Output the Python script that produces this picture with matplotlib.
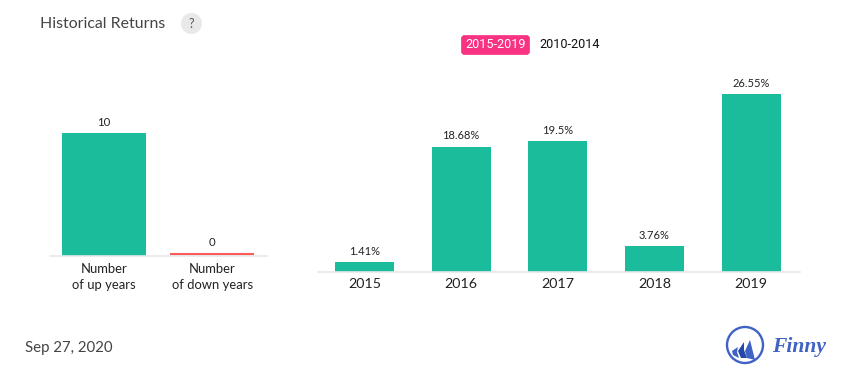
import matplotlib
matplotlib.use("Agg")
import matplotlib.pyplot as plt
from matplotlib.patches import Circle, FancyBboxPatch, Polygon
from matplotlib.transforms import ScaledTranslation

WIDTH, HEIGHT = 855, 382

count_labels = ["Number\nof up years", "Number\nof down years"]
count_values = [10, 0]
years = ["2015", "2016", "2017", "2018", "2019"]
returns = [1.41, 18.68, 19.5, 3.76, 26.55]
return_labels = ["1.41%", "18.68%", "19.5%", "3.76%", "26.55%"]

GREEN = "#1abc9c"
RED = "#ff5a5a"
PINK = "#f93282"
BLUE = "#3f62c4"
DARK_BLUE = "#2547a8"
AXIS = "#e8e8e8"


def pixel_axes(fig, left, top, right, bottom):
    return fig.add_axes(
        [left / WIDTH, 1 - bottom / HEIGHT, (right - left) / WIDTH, (bottom - top) / HEIGHT]
    )


def style_axes(ax):
    for side in ["top", "right", "left"]:
        ax.spines[side].set_visible(False)
    ax.spines["bottom"].set_color(AXIS)
    ax.spines["bottom"].set_linewidth(1.2)
    ax.set_yticks([])
    ax.tick_params(axis="x", length=0, labelcolor="#222222")
    ax.patch.set_alpha(0)


plt.rcParams["font.family"] = ["Lato", "DejaVu Sans"]
fig = plt.figure(figsize=(WIDTH / 100, HEIGHT / 100), dpi=100, facecolor="white")

# left panel: up and down years
ax_left = pixel_axes(fig, 50, 60, 266.5, 255.5)
ax_left.bar(range(2), count_values, width=0.775, color=[GREEN, RED])
# the zero bar still shows as a thin red strip sitting on the axis
lift = ScaledTranslation(0, 1.5 / 100, fig.dpi_scale_trans)
ax_left.plot([1 - 0.3875, 1 + 0.3875], [count_values[1], count_values[1]],
             color=RED, lw=1.5, solid_capstyle="butt", clip_on=False, zorder=5,
             transform=ax_left.transData + lift)
ax_left.set_xlim(-0.5, 1.5)
ax_left.set_ylim(0, 10 * 195.5 / 122.5)
ax_left.set_xticks(range(2))
ax_left.set_xticklabels(count_labels, fontsize=9.4, linespacing=1.42)
ax_left.tick_params(axis="x", pad=5.6)
for i, value in enumerate(count_values):
    ax_left.annotate(str(value), (i, value), xytext=(0, 3.4 if value else 5.2),
                     textcoords="offset points", ha="center", va="bottom",
                     fontsize=8.2, color="#222222")
style_axes(ax_left)

# right panel: yearly returns
ax_right = pixel_axes(fig, 318, 60, 799.5, 271.5)
ax_right.bar(range(5), returns, width=0.61, color=GREEN)
ax_right.set_xlim(-0.48, 4.5)
ax_right.set_ylim(0, 211.5 / 6.667)
ax_right.set_xticks(range(5))
ax_right.set_xticklabels(years, fontsize=10.3)
ax_right.tick_params(axis="x", pad=4.6)
for i, value in enumerate(returns):
    ax_right.annotate(return_labels[i], (i, value), xytext=(0, 4),
                      textcoords="offset points", ha="center", va="bottom",
                      fontsize=8, color="#222222")
style_axes(ax_right)

# overlay in pixel coordinates for title, buttons, date and logo
over = fig.add_axes([0, 0, 1, 1], zorder=5)
over.set_xlim(0, WIDTH)
over.set_ylim(HEIGHT, 0)
over.axis("off")

over.text(40, 23.5, "Historical Returns", fontsize=11.4, color="#444444", va="center")
over.add_patch(Circle((191.5, 23.5), 10.5, color="#e9e9e9", lw=0))
over.text(191.5, 23.5, "?", fontsize=9, color="#555555", ha="center", va="center")

over.add_patch(FancyBboxPatch((461.5, 35.5), 68, 19, boxstyle="round,pad=0,rounding_size=3",
                              fc=PINK, ec=PINK, lw=0.5))
over.text(496, 45, "2015-2019", fontsize=9.1, color="white", ha="center", va="center",
          family="Roboto")
over.text(570, 45, "2010-2014", fontsize=9.1, color="#111111", ha="center", va="center",
          family="Roboto")

over.text(25, 348, "Sep 27, 2020", fontsize=10.8, color="#444444", va="center")

# logo
over.add_patch(Circle((745, 345), 18, fc="none", ec=BLUE, lw=1.7))
over.add_patch(Polygon([(750, 340), (755, 360), (747, 358), (745, 351)], fc=BLUE, lw=0))
over.add_patch(Polygon([(744, 342), (738, 351), (741, 358), (747, 358), (744, 350)],
                       fc=DARK_BLUE, lw=0))
over.add_patch(Polygon([(738, 347), (732, 351), (733, 355), (739, 358), (737, 352)],
                       fc=BLUE, lw=0))
over.text(772, 347, "Finny", fontsize=15.5, color=BLUE, va="center", style="italic",
          weight="bold", family="Liberation Serif")

fig.savefig("out.png", dpi=100)
plt.close(fig)
